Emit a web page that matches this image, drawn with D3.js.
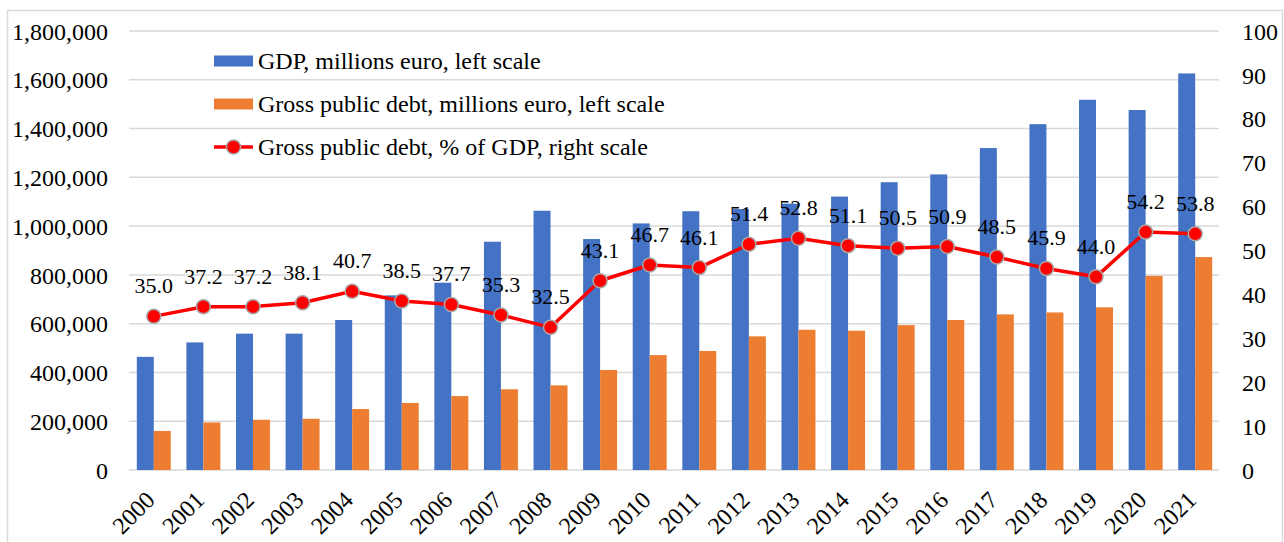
<!DOCTYPE html>
<html>
<head>
<meta charset="utf-8">
<script src="https://cdn.jsdelivr.net/npm/d3@7"></script>
<style>
  body { margin: 0; background: #fff; }
</style>
</head>
<body>
<div id="chart"></div>
<script>
const years = ["2000","2001","2002","2003","2004","2005","2006","2007","2008","2009","2010",
  "2011","2012","2013","2014","2015","2016","2017","2018","2019","2020","2021"];
const gdp = [464000, 523000, 559000, 559000, 615000, 716000, 768000, 936000, 1063000, 947000, 1011000,
  1061000, 1070000, 1092000, 1121000, 1180000, 1212000, 1320000, 1418000, 1518000, 1476000, 1626000];
const debt = [160000, 195000, 206000, 210000, 250000, 275000, 303000, 331000, 347000, 410000, 471000,
  488000, 548000, 575000, 571000, 594000, 615000, 638000, 646000, 667000, 796000, 873000];
const debtPct = [35.0, 37.2, 37.2, 38.1, 40.7, 38.5, 37.7, 35.3, 32.5, 43.1, 46.7,
  46.1, 51.4, 52.8, 51.1, 50.5, 50.9, 48.5, 45.9, 44.0, 54.2, 53.8];
const leftTicks = [0, 200000, 400000, 600000, 800000, 1000000, 1200000, 1400000, 1600000, 1800000];
const rightTicks = [0, 10, 20, 30, 40, 50, 60, 70, 80, 90, 100];
const legendLabels = ["GDP, millions euro, left scale",
  "Gross public debt, millions euro, left scale",
  "Gross public debt, % of GDP, right scale"];

const svgWidth = 1284;
const svgHeight = 542;
const plot = { left: 129, right: 1220, top: 31, bottom: 470 };

const font = "'Liberation Serif', Tinos, 'Times New Roman', 'DejaVu Serif', serif";
const blue = "#4472C4";
const orange = "#ED7D31";
const red = "#FF0000";
const grid = "#D9D9D9";

const svg = d3.select("#chart")
  .append("svg")
  .attr("width", svgWidth)
  .attr("height", svgHeight)
  .attr("font-family", font);

// outer chart border
svg.append("rect")
  .attr("x", 7.5)
  .attr("y", 10.5)
  .attr("width", 1275)
  .attr("height", 545)
  .attr("fill", "none")
  .attr("stroke", grid)
  .attr("stroke-width", 1.5);

// scales
const x0 = d3.scaleBand()
  .domain(years)
  .range([plot.left, plot.right]);

const x1 = d3.scaleBand()
  .domain(["gdp", "debt"])
  .range([0, x0.bandwidth()])
  .paddingOuter(0.46);

const yLeft = d3.scaleLinear()
  .domain([0, 1800000])
  .range([plot.bottom, plot.top]);

const yRight = d3.scaleLinear()
  .domain([0, 100])
  .range([plot.bottom, plot.top]);

//gridlines
svg.append("g")
  .selectAll("line")
  .data(leftTicks)
  .enter()
  .append("line")
  .attr("x1", plot.left)
  .attr("x2", plot.right - 1)
  .attr("y1", d => yLeft(d))
  .attr("y2", d => yLeft(d))
  .attr("stroke", grid)
  .attr("stroke-width", 1.5);

//left axis
const leftAxis = svg.append("g")
  .attr("transform", `translate(${plot.left}, 0)`)
  .call(d3.axisLeft(yLeft).tickValues(leftTicks).tickFormat(d3.format(",")).tickSize(0).tickPadding(21));
leftAxis.attr("font-family", font);
leftAxis.select(".domain").remove();
leftAxis.selectAll("text").attr("font-size", 24).attr("fill", "#000").attr("dy", "0.34em");

//right axis
const rightAxis = svg.append("g")
  .attr("transform", `translate(${plot.right}, 0)`)
  .call(d3.axisRight(yRight).tickValues(rightTicks).tickSize(0).tickPadding(22));
rightAxis.attr("font-family", font);
rightAxis.select(".domain").remove();
rightAxis.selectAll("text").attr("font-size", 24).attr("fill", "#000").attr("dy", "0.34em");

//x axis
const xAxis = svg.append("g")
  .attr("transform", `translate(0, ${plot.bottom})`)
  .call(d3.axisBottom(x0).tickSize(0));
xAxis.attr("font-family", font);
xAxis.select(".domain").remove();
xAxis.selectAll("text")
  .attr("font-size", 24)
  .attr("fill", "#000")
  .attr("x", 0)
  .attr("y", 0)
  .attr("dy", "0.32em")
  .attr("text-anchor", "end")
  .attr("transform", "translate(-3, 26) rotate(-45)");

// bars
const barGroups = svg.append("g")
  .selectAll("g")
  .data(years)
  .enter()
  .append("g")
  .attr("transform", d => `translate(${x0(d)}, 0)`);

barGroups.append("rect")
  .attr("x", x1("gdp"))
  .attr("width", x1.bandwidth())
  .attr("y", (d, i) => yLeft(gdp[i]))
  .attr("height", (d, i) => yLeft(0) - yLeft(gdp[i]))
  .attr("fill", blue);

barGroups.append("rect")
  .attr("x", x1("debt"))
  .attr("width", x1.bandwidth())
  .attr("y", (d, i) => yLeft(debt[i]))
  .attr("height", (d, i) => yLeft(0) - yLeft(debt[i]))
  .attr("fill", orange);

// debt % line
const cx = (d, i) => x0(years[i]) + x0.bandwidth() / 2;

const line = d3.line()
  .x(cx)
  .y(d => yRight(d));

svg.append("path")
  .datum(debtPct)
  .attr("d", line)
  .attr("fill", "none")
  .attr("stroke", red)
  .attr("stroke-width", 3.5)
  .attr("stroke-linejoin", "round");

svg.append("g")
  .selectAll("circle")
  .data(debtPct)
  .enter()
  .append("circle")
  .attr("cx", cx)
  .attr("cy", d => yRight(d))
  .attr("r", 7)
  .attr("fill", red)
  .attr("stroke", "#A6A6A6")
  .attr("stroke-width", 1.5);

svg.append("g")
  .selectAll("text")
  .data(debtPct)
  .enter()
  .append("text")
  .attr("x", cx)
  .attr("y", d => yRight(d) - 23)
  .attr("text-anchor", "middle")
  .attr("font-size", 22)
  .attr("fill", "#000")
  .text(d => d.toFixed(1));

// legend
const legend = svg.append("g")
  .attr("transform", "translate(214, 61)");

const rowGap = 43;

legend.append("rect")
  .attr("x", 0).attr("y", -5.5)
  .attr("width", 39).attr("height", 11)
  .attr("fill", blue);

legend.append("rect")
  .attr("x", 0).attr("y", rowGap - 5.5)
  .attr("width", 39).attr("height", 11)
  .attr("fill", orange);

legend.append("line")
  .attr("x1", 0).attr("x2", 39)
  .attr("y1", rowGap * 2).attr("y2", rowGap * 2)
  .attr("stroke", red)
  .attr("stroke-width", 3.5);

legend.append("circle")
  .attr("cx", 19.5).attr("cy", rowGap * 2)
  .attr("r", 7)
  .attr("fill", red)
  .attr("stroke", "#A6A6A6")
  .attr("stroke-width", 1.5);

legend.selectAll(".legend-label")
  .data(legendLabels)
  .enter()
  .append("text")
  .attr("class", "legend-label")
  .attr("x", 44)
  .attr("y", (d, i) => i * rowGap)
  .attr("dy", "0.34em")
  .attr("font-size", 24)
  .attr("fill", "#000")
  .text(d => d);
</script>
</body>
</html>
